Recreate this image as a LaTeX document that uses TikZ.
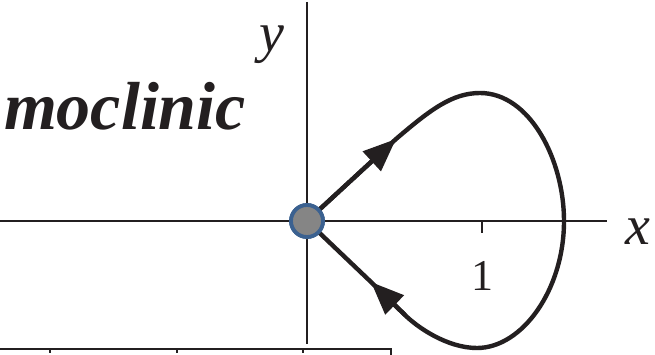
\documentclass[tikz,border=0pt]{standalone}
\usepackage{fontspec}
\setmainfont{Liberation Serif}
\usetikzlibrary{arrows.meta}
\definecolor{ink}{HTML}{231F20}
\definecolor{dotblue}{HTML}{3B6190}
\definecolor{dotgray}{HTML}{858585}
\begin{document}
\begin{tikzpicture}[x=1pt,y=-1pt,
  axis/.style={draw=ink,line width=2.6pt},
  orbit/.style={draw=ink,line width=4.4pt},
  tip/.style={-{Triangle[length=33pt,width=26pt]}},
  lbl/.style={inner sep=0pt,text=ink},
  dot/.style={circle,draw=dotblue,fill=dotgray,line width=3.8pt,minimum size=32pt,inner sep=0pt}]
\useasboundingbox (0,0) rectangle (655,355);
\begin{scope}
\clip (0,0) rectangle (655,355);
% coordinates
\coordinate (xa) at (-2,221);
\coordinate (xb) at (607,221);
\coordinate (ya) at (307,2);
\coordinate (yb) at (307,344);
\coordinate (t1a) at (482,221);
\coordinate (t1b) at (482,233);
\coordinate (ba) at (-2,349);
\coordinate (bb) at (391,349);
\coordinate (bc) at (391,358);
\coordinate (k1) at (50,349);
\coordinate (k1b) at (50,353);
\coordinate (k2) at (177,349);
\coordinate (k2b) at (177,353);
\coordinate (k3) at (303,349);
\coordinate (k3b) at (303,353);
\coordinate (ua) at (396,139);
\coordinate (top) at (480,93);
\coordinate (rt) at (564,221);
\coordinate (bot) at (477,348);
\coordinate (lb) at (405,315);
\coordinate (la) at (371,282);
% axes
\draw[axis] (xa) -- (xb);
\draw[axis] (ya) -- (yb);
\draw[axis] (t1a) -- (t1b);
% bottom frame
\draw[axis,line width=2.2pt] (ba) -- (bb) -- (bc);
\draw[axis,line width=1.8pt] (k1) -- (k1b);
\draw[axis,line width=1.8pt] (k2) -- (k2b);
\draw[axis,line width=1.8pt] (k3) -- (k3b);
% origin
\node[dot] (O) at (307,221) {};
% orbit
\draw[orbit,line join=round] (O.center) -- (ua) .. controls (430,110) and (452,93) .. (top)
  .. controls (530,93) and (564,160) .. (rt)
  .. controls (564,290) and (522,348) .. (bot)
  .. controls (447,348) and (417,327) .. (lb) -- (la) -- (O.center);
\draw[orbit,tip] (O) -- (ua);
\draw[orbit,tip] (lb) -- (la);
\node[dot] (O2) at (O) {};
% labels
\node[lbl,anchor=center,font=\fontsize{56}{56}\selectfont\itshape] (xlab) at (638,232) {x};
\node[lbl,anchor=base,font=\fontsize{56}{56}\selectfont\itshape] (ylab) at (272,52) {y};
\node[lbl,anchor=base,font=\fontsize{44}{44}\selectfont] (one) at (482,290) {1};
\node[lbl,anchor=base east,font=\fontsize{68}{68}\selectfont\bfseries\itshape] (title) at (246,130) {moclinic};
\end{scope}
\end{tikzpicture}
\end{document}
